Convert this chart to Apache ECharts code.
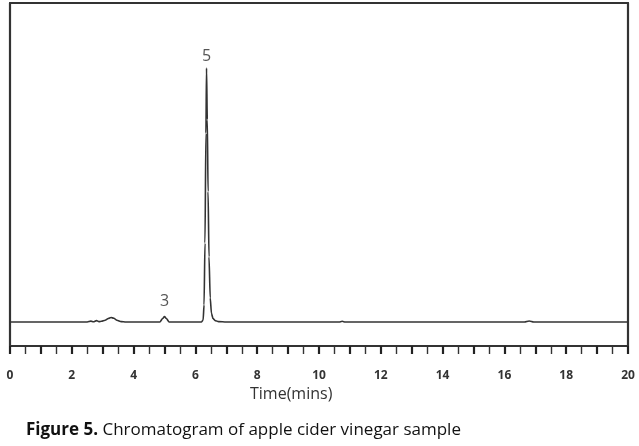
<!DOCTYPE html>
<html>
<head>
<meta charset="utf-8">
<script src="https://cdn.jsdelivr.net/npm/echarts@6/dist/echarts.min.js"></script>
<style>html,body{margin:0;padding:0;background:#fff;}#c{width:639px;height:446px;}</style>
</head>
<body>
<div id="c"></div>
<script>
// retention time (min)
var times = [0, 2.5, 2.62, 2.7, 2.8, 2.88, 2.96, 3.08, 3.18, 3.27, 3.36, 3.46, 3.6, 3.75,
  4.85, 4.94, 5.0, 5.06, 5.15,
  6.2, 6.25, 6.28, 6.31, 6.34, 6.36, 6.385, 6.41, 6.44, 6.48, 6.52, 6.57, 6.64, 6.75, 7.0,
  10.65, 10.75, 10.85, 16.65, 16.8, 16.95, 20];
// detector signal (relative)
var signal = [7.0, 7.0, 7.25, 7.05, 7.4, 7.1, 7.2, 7.5, 8.0, 8.3, 8.1, 7.5, 7.1, 7.0,
  7.0, 8.0, 8.6, 8.0, 7.0,
  7.0, 7.6, 12, 30, 62, 81, 66, 45, 26, 14, 9.5, 8.0, 7.4, 7.1, 7.0,
  7.0, 7.2, 7.0, 7.0, 7.3, 7.0, 7.0];
var xTickLabels = ['0', '2', '4', '6', '8', '10', '12', '14', '16', '18', '20'];
var peakTimes = [5.0, 6.36];
var peakHeights = [8.6, 81];
var peakNames = ['3', '5'];

var data = times.map(function (t, i) { return [t, signal[i]]; });
var frame = { show: true, onZero: false, lineStyle: { color: '#333', width: 2.2 } };
var chart = echarts.init(document.getElementById('c'));
chart.setOption({
  animation: false,
  backgroundColor: '#fff',
  grid: { left: 10, right: 11, top: 3, bottom: 100 },
  xAxis: [{
    type: 'value', min: 0, max: 20, interval: 1, position: 'bottom',
    axisLine: { show: true, onZero: false, lineStyle: { color: '#333', width: 2.2 } },
    axisTick: { show: true, length: 8, lineStyle: { color: '#222', width: 2.2 } },
    minorTick: { show: true, splitNumber: 2, length: 8, lineStyle: { color: '#333', width: 1.4 } },
    splitLine: { show: false },
    axisLabel: {
      margin: 24, color: '#333', fontSize: 12, fontWeight: 'bold', fontFamily: 'Open Sans',
      formatter: function (v) { var s = String(v); return xTickLabels.indexOf(s) >= 0 ? s : ''; }
    }
  }, {
    type: 'value', min: 0, max: 20, position: 'top',
    axisLine: frame, axisTick: { show: false }, axisLabel: { show: false }, splitLine: { show: false }
  }],
  yAxis: [{
    type: 'value', min: 0, max: 100, position: 'left',
    axisLine: frame, axisTick: { show: false }, axisLabel: { show: false }, splitLine: { show: false }
  }, {
    type: 'value', min: 0, max: 100, position: 'right',
    axisLine: frame, axisTick: { show: false }, axisLabel: { show: false }, splitLine: { show: false }
  }],
  series: [{
    type: 'line', data: data, showSymbol: false, smooth: 0.25, smoothMonotone: 'x',
    lineStyle: { color: '#333', width: 1.6 },
    markPoint: {
      symbol: 'circle', symbolSize: 0, silent: true,
      label: { show: true, position: 'top', color: '#555', fontSize: 16, fontFamily: 'Open Sans' },
      data: peakNames.map(function (n, i) {
        return { coord: [peakTimes[i], peakHeights[i]], value: n,
          label: { formatter: n, distance: i === 0 ? 7 : 4, fontSize: 16 } };
      })
    }
  }],
  graphic: [{
    type: 'text', left: 250, top: 386,
    style: { text: 'Time(mins)', fill: '#333', fontSize: 16, fontFamily: 'Open Sans' }
  }, {
    type: 'text', left: 26, top: 422,
    style: {
      text: '{b|Figure 5.} Chromatogram of apple cider vinegar sample',
      fill: '#111', fontSize: 17, fontFamily: 'Open Sans',
      rich: { b: { fontWeight: 'bold', fontSize: 17, fontFamily: 'Open Sans', fill: '#111' } }
    }
  }]
});
</script>
</body>
</html>
